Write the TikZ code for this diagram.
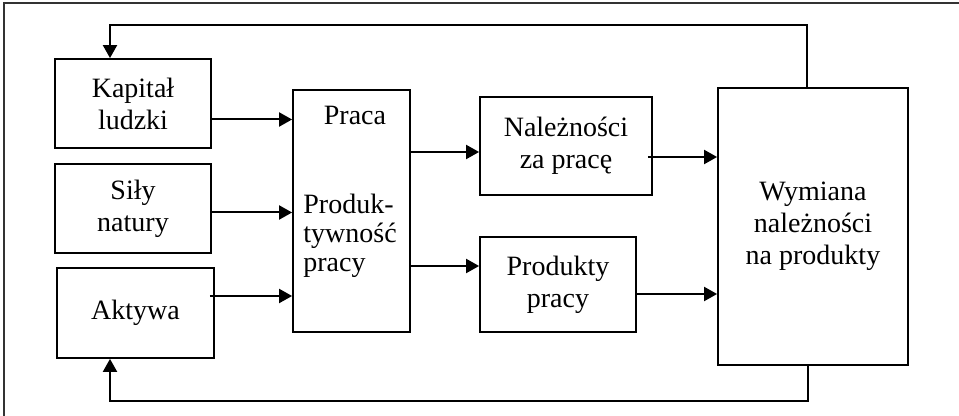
\documentclass[tikz,border=0pt]{standalone}
\usepackage{fontspec}
\setmainfont{Liberation Serif}
\usetikzlibrary{arrows.meta,positioning}

\begin{document}
\begin{tikzpicture}[
    x=0.5pt, y=-0.5pt,
    blok/.style={draw, line width=0.9pt, align=center, inner sep=0pt, font=\fontsize{14pt}{16pt}\selectfont},
    txt/.style={inner sep=0pt, font=\fontsize{14pt}{16pt}\selectfont},
    arr/.style={-{Triangle[length=6.5pt,width=7pt]}, line width=1pt}
]
\useasboundingbox (0,0) rectangle (959,416);
% frame (top and left edge only)
\draw[line width=0.6pt, black!80] (4,416) -- (4,3) -- (959,3);

\node[blok, minimum width=78pt, minimum height=44.5pt] (kap) at (133,103.5) {Kapitał\\ludzki};
\node[blok, minimum width=78pt, minimum height=44.5pt] (sily) at (133,208.5) {Siły\\natury};
\node[blok, minimum width=78.5pt, minimum height=45pt] (akt) at (135.5,313) {Aktywa};
\node[blok, minimum width=58.5pt, minimum height=121pt] (praca) at (351.5,211) {};
\node[txt] (pracaT) at (355,115) {Praca};
\node[txt, align=left, anchor=west, font=\fontsize{14pt}{14.5pt}\selectfont] (prod) at (303,236) {Produk-\\tywność\\pracy};
\node[blok, minimum width=86pt, minimum height=49pt] (nal) at (566,146) {Należności\\za pracę};
\node[blok, minimum width=78pt, minimum height=47.5pt] (prp) at (558,284.5) {Produkty\\pracy};
\node[blok, minimum width=95pt, minimum height=138.5pt] (wym) at (813,226.5) {Wymiana\\należności\\na produkty};

\coordinate (fbT) at (110,25);
\coordinate (fbB) at (110,401);

% inputs
\draw[arr] ([yshift=-8pt]kap.east) -- ([yshift=-8pt]kap.east -| praca.west);
\draw[arr] ([yshift=-2pt]sily.east) -- ([yshift=-2pt]sily.east -| praca.west);
\draw[arr] ([xshift=-2.5pt,yshift=8.5pt]akt.east) -- ([yshift=8.5pt]akt.east -| praca.west);

% outputs
\draw[arr] ([yshift=29.5pt]praca.east) -- ([yshift=29.5pt]praca.east -| nal.west);
\draw[arr] ([yshift=-27.5pt]praca.east) -- ([yshift=-27.5pt]praca.east -| prp.west);
\draw[arr] ([xshift=-2.5pt,yshift=-5.5pt]nal.east) -- ([yshift=-5.5pt]nal.east -| wym.west);
\draw[arr] ([yshift=-4.75pt]prp.east) -- ([yshift=-4.75pt]prp.east -| wym.west);

% feedback
\draw[arr] ([xshift=-3pt]wym.north) |- (fbT) -- (fbT |- kap.north);
\draw[arr] ([xshift=-2.5pt]wym.south) |- (fbB) -- (fbB |- akt.south);
\end{tikzpicture}
\end{document}
